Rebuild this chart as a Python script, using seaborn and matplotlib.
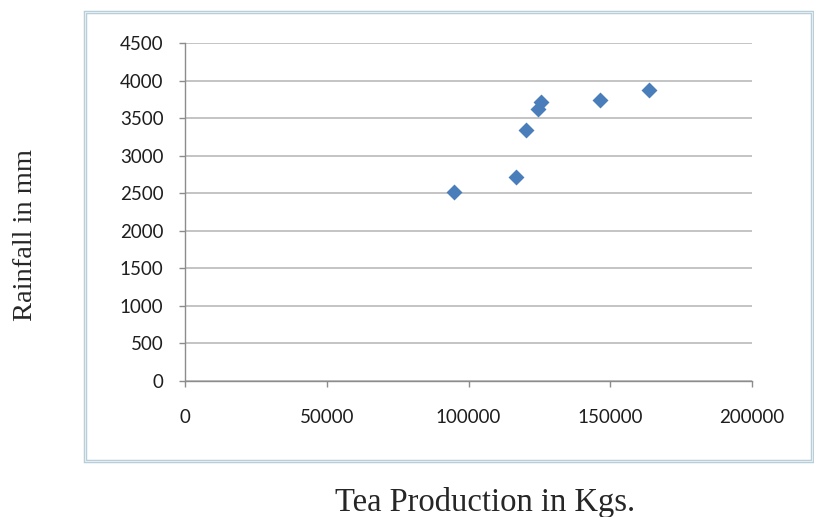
#! /usr/bin/env python3
'''
Scatter of rainfall against tea production, Excel style.
'''
# imports
from matplotlib import rcParams
from matplotlib.patches import Rectangle
import matplotlib.pyplot as plt
import pandas as pd
import seaborn as sns

# settings
sns.set_style("white")
rcParams['font.family'] = ['Lato', 'DejaVu Sans']
MARKER = '#4A7EBB'
GRID = '#BFBFBF'
AXIS = '#8C8C8C'

# data
tea_kgs = [94900, 116800, 120200, 124600, 125600, 146400, 163800]
rainfall_mm = [2515, 2720, 3335, 3620, 3720, 3735, 3875]
x_ticks = [0, 50000, 100000, 150000, 200000]
y_ticks = [0, 500, 1000, 1500, 2000, 2500, 3000, 3500, 4000, 4500]
data = pd.DataFrame({'tea': tea_kgs, 'rain': rainfall_mm})

fig = plt.figure(figsize=(8.14, 5.17), dpi=100)
ax = fig.add_axes([0.2273, 0.2631, 0.6966, 0.6538])
sns.scatterplot(x='tea', y='rain', data=data, ax=ax, marker='D', s=66,
                color=MARKER, edgecolor=MARKER, linewidth=0, zorder=3)

ax.set_xlim(0, 200000)
ax.set_ylim(0, 4500)
ax.set_xticks(x_ticks)
ax.set_yticks(y_ticks)
ax.set_xticklabels([str(t) for t in x_ticks])
ax.set_yticklabels([str(t) for t in y_ticks])
ax.yaxis.grid(True, color=GRID, lw=1.3)
ax.xaxis.grid(False)
ax.set_axisbelow(True)
for s in ['top', 'right']:
    ax.spines[s].set_visible(False)
for s in ['left', 'bottom']:
    ax.spines[s].set_color(AXIS)
    ax.spines[s].set_linewidth(1.0)
ax.tick_params(axis='x', direction='out', length=4, width=1, color=AXIS,
               pad=16.5, labelsize=13.5, labelcolor='#1E1E1E', bottom=True)
ax.tick_params(axis='y', direction='out', length=4, width=1, color=AXIS,
               pad=11.5, labelsize=13.5, labelcolor='#1E1E1E', left=True)
ax.set_xlabel('')
ax.set_ylabel('')

# chart frame
fig.patches.append(Rectangle((0.1044, 0.1083), 0.893, 0.8685, transform=fig.transFigure,
                             fill=False, edgecolor='#B7CDD8', lw=2.5))
fig.patches.append(Rectangle((0.1044, 0.1083), 0.893, 0.8685, transform=fig.transFigure,
                             fill=False, edgecolor='#E4EEF2', lw=0.8))

# axis titles outside the frame
fig.text(0.031, 0.545, 'Rainfall in mm', rotation=90, ha='center', va='center',
         fontsize=20.5, family=['Liberation Serif', 'DejaVu Serif'])
fig.text(0.596, 0.029, 'Tea Production in Kgs.', ha='center', va='center',
         fontsize=23.5, family=['Liberation Serif', 'DejaVu Serif'])

fig.savefig('out.png', dpi=100)
plt.close()
